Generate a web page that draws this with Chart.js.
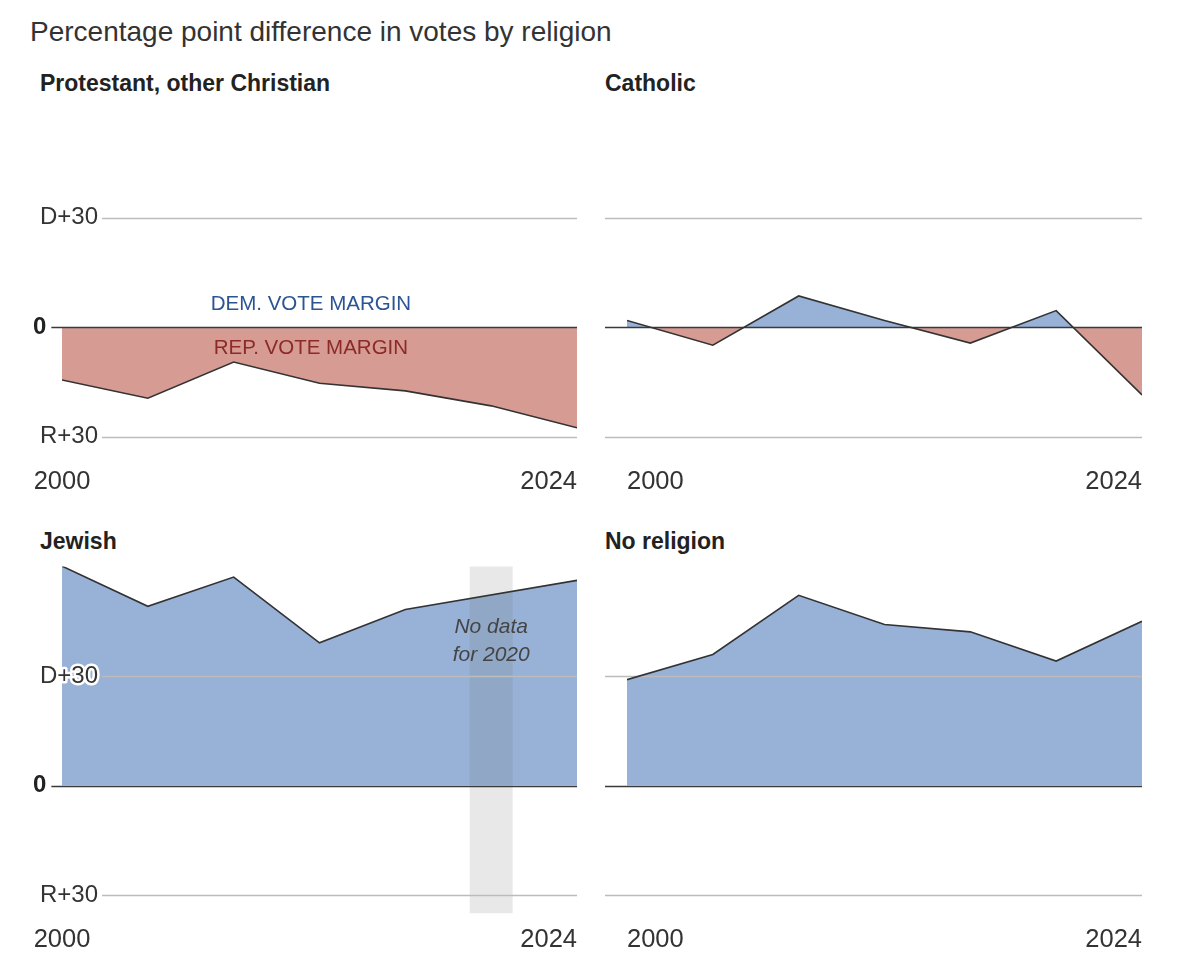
<!DOCTYPE html>
<html>
<head>
<meta charset="utf-8">
<script src="https://cdn.jsdelivr.net/npm/chart.js@4.4.1/dist/chart.umd.min.js"></script>
<style>
  body { margin: 0; background: #fff; width: 1200px; height: 975px; position: relative; overflow: hidden;
         font-family: "Liberation Sans", Arial, sans-serif; color: #333; }
  .title { position: absolute; left: 30px; top: 13px; font-size: 28px; line-height: 38px; color: #333; }
  .panel-title { position: absolute; font-weight: bold; font-size: 23px; line-height: 26px; color: #222; }
  .panel { position: absolute; width: 600px; height: 400px; }
</style>
</head>
<body>
<div class="title">Percentage point difference in votes by religion</div>

<div class="panel-title" style="left:40px; top:70px;">Protestant, other Christian</div>
<div class="panel-title" style="left:605px; top:70px;">Catholic</div>
<div class="panel-title" style="left:40px; top:528px;">Jewish</div>
<div class="panel-title" style="left:605px; top:528px;">No religion</div>

<div class="panel" style="left:0; top:100px;"><canvas id="protestant"></canvas></div>
<div class="panel" style="left:600px; top:100px;"><canvas id="catholic"></canvas></div>
<div class="panel" style="left:0; top:558px;"><canvas id="jewish"></canvas></div>
<div class="panel" style="left:600px; top:558px;"><canvas id="noreligion"></canvas></div>

<script>
// ---- data (positive = Democratic margin, negative = Republican margin) ----
const years = [2000, 2004, 2008, 2012, 2016, 2020, 2024];
const protestant = [-14.5, -19.5, -9.6, -15.4, -17.5, -21.6, -27.6];
const catholic = [1.8, -5.0, 8.5, 1.8, -4.4, 4.5, -18.6];
const jewish = [60.1, 49.1, 57.1, 39.1, 48.2, null, 56.2]; // no 2020 poll
const noReligion = [29.0, 35.9, 52.1, 44.1, 42.1, 34.1, 45.0];

const yTicks = [30, 0, -30];
const yTickLabels = ["D+30", "0", "R+30"];
const xTickLabels = ["2000", "2024"];

const BLUE = "#97b1d7";
const RED = "#d69c94";
const FONT = '"Liberation Sans", Arial, sans-serif';

// gridlines, gap band, labels drawn from the chart's own scales
const panelDecor = {
  id: "panelDecor",
  beforeDatasetDraw(chart, args, o) {
    const { ctx, chartArea: a, scales: { x, y } } = chart;
    ctx.save();
    if (o.gapYear) {
      const x0 = x.getPixelForValue(o.gapYear - 1);
      const x1 = x.getPixelForValue(o.gapYear + 1);
      ctx.fillStyle = "rgba(120,120,120,0.17)";
      ctx.fillRect(x0, a.top, x1 - x0, a.bottom - a.top);
    }
    yTicks.forEach((v, i) => {
      const py = Math.round(y.getPixelForValue(v)) + 0.5;
      let start = a.left - 22;
      if (o.leftLabels) {
        ctx.font = (v === 0 ? "bold " : "") + "24px " + FONT;
        const lx = v === 0 ? a.left - 29 : a.left - 22;
        start = lx + ctx.measureText(yTickLabels[i]).width + (v === 0 ? 5 : 4);
      }
      ctx.beginPath();
      ctx.moveTo(start, py);
      ctx.lineTo(a.right, py);
      ctx.lineWidth = 1.5;
      ctx.strokeStyle = v === 0 ? "#3a3a3a" : "#bcbcbc";
      ctx.stroke();
    });
    ctx.restore();
  },
  afterDatasetsDraw(chart, args, o) {
    const { ctx, chartArea: a, scales: { x, y } } = chart;
    ctx.save();
    ctx.textBaseline = "middle";
    if (o.leftLabels) {
      yTicks.forEach((v, i) => {
        ctx.font = (v === 0 ? "bold " : "") + "24px " + FONT;
        const lx = v === 0 ? a.left - 29 : a.left - 22;
        const py = y.getPixelForValue(v);
        ctx.textAlign = "left";
        ctx.lineJoin = "round";
        ctx.lineWidth = 5;
        ctx.strokeStyle = "#fff";
        ctx.strokeText(yTickLabels[i], lx, py);
        ctx.fillStyle = v === 0 ? "#222" : "#333";
        ctx.fillText(yTickLabels[i], lx, py);
      });
    }
    // x axis end labels
    ctx.font = "25.5px " + FONT;
    ctx.fillStyle = "#333";
    const ly = a.bottom + 27;
    ctx.textAlign = o.leftLabels ? "center" : "left";
    ctx.fillText(xTickLabels[0], x.getPixelForValue(years[0]), ly);
    ctx.textAlign = "right";
    ctx.fillText(xTickLabels[1], x.getPixelForValue(years[years.length - 1]), ly);

    if (o.marginNotes) {
      ctx.font = "20.5px " + FONT;
      ctx.textAlign = "center";
      ctx.fillStyle = "#2b5592";
      ctx.fillText("DEM. VOTE MARGIN", x.getPixelForValue(2011.6), y.getPixelForValue(6.3));
      ctx.fillStyle = "#8c2a27";
      ctx.fillText("REP. VOTE MARGIN", x.getPixelForValue(2011.6), y.getPixelForValue(-5.8));
    }
    if (o.gapYear) {
      ctx.font = "italic 21px " + FONT;
      ctx.textAlign = "center";
      ctx.fillStyle = "#444";
      ctx.fillText("No data", x.getPixelForValue(o.gapYear), y.getPixelForValue(43.3));
      ctx.fillText("for " + o.gapYear, x.getPixelForValue(o.gapYear), y.getPixelForValue(35.6));
    }
    ctx.restore();
  }
};

function makePanel(id, values, side, row, extra) {
  const padding = {
    left: side === "left" ? 62 : 27,
    right: side === "left" ? 23 : 58,
    top: row === "top" ? 8 : 8.5,
    bottom: row === "top" ? 45.25 : 44.75
  };
  return new Chart(document.getElementById(id), {
    type: "line",
    data: {
      datasets: [{
        data: years.map((yr, i) => ({ x: yr, y: values[i] })),
        borderColor: "#333",
        borderWidth: 1.6,
        pointRadius: 0,
        tension: 0,
        spanGaps: true,
        fill: { target: "origin", above: BLUE, below: RED }
      }]
    },
    options: {
      responsive: true,
      maintainAspectRatio: false,
      animation: false,
      layout: { padding },
      scales: {
        x: { type: "linear", display: false, min: 2000, max: 2024 },
        y: { display: false, min: -35, max: 60 }
      },
      plugins: {
        legend: { display: false },
        tooltip: { enabled: false },
        panelDecor: Object.assign({ leftLabels: side === "left" }, extra || {})
      }
    },
    plugins: [panelDecor]
  });
}

makePanel("protestant", protestant, "left", "top", { marginNotes: true });
makePanel("catholic", catholic, "right", "top");
makePanel("jewish", jewish, "left", "bottom", { gapYear: 2020 });
makePanel("noreligion", noReligion, "right", "bottom");
</script>
</body>
</html>
